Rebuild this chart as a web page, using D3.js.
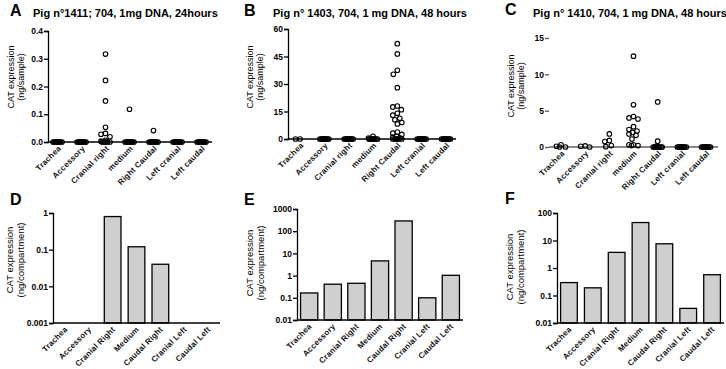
<!DOCTYPE html>
<html><head><meta charset="utf-8">
<script src="https://cdn.jsdelivr.net/npm/d3@7"></script>
<style>
body{margin:0;background:#fff;}
text{font-family:"Liberation Sans",Arial,sans-serif;}
</style></head>
<body><svg id="c" width="726" height="369"></svg>
<script>
// ---------- DATA ----------
const catsTop = ["Trachea","Accessory","Cranial right","medium","Right Caudal","Left cranial","Left caudal"];
const catsBottom = ["Trachea","Accessory","Cranial Right","Medium","Caudal Right","Cranial Left","Caudal Left"];

const titleA = "Pig n°1411; 704, 1mg DNA, 24hours";
const titleB = "Pig n° 1403, 704, 1 mg DNA, 48 hours";
const titleC = "Pig n° 1410, 704, 1 mg DNA, 48 hours";

const ticksA = [0, 0.1, 0.2, 0.3, 0.4];
const ticksB = [0, 15, 30, 45, 60];
const ticksC = [0, 5, 10, 15];
const ticksD = [0.001, 0.01, 0.1, 1];
const ticksE = [0.01, 0.1, 1, 10, 100, 1000];
const ticksF = [0.01, 0.1, 1, 10, 100];
const tickLabelsD = ["0.001","0.01","0.1","1"];
const tickLabelsE = ["0.01","0.1","1","10","100","1000"];
const tickLabelsF = ["0.01","0.1","1","10","100"];

// scatter values (ng/sample), one array per lung compartment
const pointsA = [
  [0,0,0,0,0,0,0,0,0,0,0,0],
  [0,0,0,0,0,0,0,0,0,0,0,0],
  [0.317,0.222,0.148,0.053,0.031,0.028,0.019,0.006,0.003,0,0,0,0,0,0],
  [0.118,0,0,0,0,0,0,0,0,0],
  [0.041,0,0,0,0,0,0,0,0,0,0,0,0],
  [0,0,0,0,0,0,0,0,0,0,0,0],
  [0,0,0,0,0,0,0,0,0,0,0,0]
];
const pointsB = [
  [0,0],
  [0,0,0,0,0,0,0,0,0,0,0,0],
  [0,0,0,0,0,0,0,0,0,0,0,0],
  [1.5,0.5,0,0,0,0,0,0,0,0,0,0],
  [52,46.4,37.5,35.3,28,18,17.5,16,14,13,11.3,10.5,9,8.2,3.8,3.2,2.5,1.5,1,0.5,0,0,0,0,0,0],
  [0,0,0,0,0,0,0,0,0,0,0,0],
  [0,0,0,0,0,0,0,0,0,0,0,0]
];
const pointsC = [
  [0.3,0.1,0,0],
  [0.15,0.1,0],
  [1.8,0.9,0.75,0.2,0.05],
  [12.5,5.8,4.2,4.0,3.85,2.8,2.4,2.2,2.0,1.8,1.6,1.1,0.3,0.3,0.2,0.2],
  [6.2,0.8,0.1,0,0,0,0,0,0,0,0,0,0],
  [0,0,0,0,0,0,0,0,0,0,0,0],
  [0,0,0,0,0,0,0,0,0,0,0,0]
];

// bar values (ng/compartment); null = below axis
const barsD = [null, null, 0.8, 0.12, 0.04, null, null];
const barsE = [0.165, 0.41, 0.45, 4.6, 290, 0.1, 1.03];
const barsF = [0.295, 0.19, 3.7, 45, 7.6, 0.034, 0.57];

// ---------- DRAWING ----------
const svg = d3.select("#c");
const FONT = '"Liberation Sans",Arial,sans-serif';

function letter(x, y, t){
  svg.append("text").attr("x", x).attr("y", y).text(t)
    .attr("font-size", 16).attr("font-weight", "bold").attr("fill", "#000");
}
function title(x, y, t){
  svg.append("text").attr("x", x).attr("y", y).text(t)
    .attr("font-size", 11).attr("font-weight", "bold").attr("fill", "#000");
}
function ylabel(x, cy, l1, l2, fs){
  const g = svg.append("g").attr("transform", `translate(${x},${cy}) rotate(-90)`);
  g.append("text").attr("text-anchor", "middle").attr("y", 0).text(l1).attr("font-size", fs);
  g.append("text").attr("text-anchor", "middle").attr("y", fs + 1).text(l2).attr("font-size", fs);
}
function catLabels(pos, cats, y, dx){
  cats.forEach(c => {
    svg.append("text")
      .attr("transform", `translate(${pos(c) + dx},${y}) rotate(-45)`)
      .attr("text-anchor", "end").attr("font-size", 8).attr("font-weight", "bold")
      .attr("letter-spacing", 0.2).attr("fill", "#111")
      .text(c);
  });
}
function yAxis(x, y, ticks, labels, color, showLine){
  const g = svg.append("g").attr("transform", `translate(${x},0)`);
  const ax = d3.axisLeft(y).tickValues(ticks).tickSize(4).tickPadding(1)
    .tickFormat((d, i) => labels[i]);
  g.call(ax);
  g.select(".domain").attr("stroke", color).attr("stroke-width", 1.3)
    .attr("display", showLine ? null : "none");
  g.selectAll(".tick line").attr("stroke", color).attr("stroke-width", 1.3);
  g.selectAll(".tick text").attr("font-size", 8.5).attr("font-weight", "bold")
    .attr("font-family", FONT).attr("fill", "#000");
}

function swarm(vals, y, cx){
  const minD = 5.4, maxOff = 4.5;
  const cands = [0];
  for (let s = 0.5; s <= maxOff + 1e-6; s += 0.5) { cands.push(-s, s); }
  const placed = [];
  vals.forEach(v => {
    const py = y(v);
    let best = null, bestScore = -1;
    for (const o of cands) {
      let md = Infinity;
      placed.forEach(p => { md = Math.min(md, Math.hypot(p.x - (cx + o), p.y - py)); });
      if (md >= minD) { best = o; bestScore = Infinity; break; }
      if (md > bestScore + 0.01) { bestScore = md; best = o; }
    }
    placed.push({x: cx + best, y: py});
  });
  return placed;
}

function scatterPanel(o){
  const x = d3.scalePoint().domain(catsTop).range(o.xr);
  const y = d3.scaleLinear().domain(o.dom).range(o.yr);
  yAxis(o.ax, y, o.ticks, o.tickLabels, o.yColor, o.yLine);
  svg.append("line").attr("x1", o.ax).attr("x2", o.xEnd)
    .attr("y1", y(0)).attr("y2", y(0))
    .attr("stroke", o.xColor).attr("stroke-width", o.xWidth);
  catsTop.forEach((c, i) => {
    const pts = swarm(o.pts[i], y, x(c));
    svg.append("g").selectAll("circle").data(pts).join("circle")
      .attr("cx", d => d.x).attr("cy", d => d.y).attr("r", 2.3)
      .attr("fill", "none").attr("stroke", "#000").attr("stroke-width", 1.1);
  });
  catLabels(c => x(c), catsTop, y(0) + 7, 4);
}

function barPanel(o){
  const x = d3.scaleBand().domain(catsBottom).range(o.xr).paddingInner(o.pad).paddingOuter(0.15);
  const y = d3.scaleLog().domain(o.dom).range(o.yr);
  svg.append("g").selectAll("rect")
    .data(o.vals.map((v, i) => ({c: catsBottom[i], v})).filter(d => d.v != null))
    .join("rect")
    .attr("x", d => x(d.c)).attr("width", x.bandwidth())
    .attr("y", d => y(d.v)).attr("height", d => y(o.dom[0]) - y(d.v))
    .attr("fill", "#cfcfcf").attr("stroke", "#000").attr("stroke-width", 1.3);
  yAxis(o.xr[0], y, o.ticks, o.tickLabels, "#000", true);
  svg.append("line").attr("x1", o.xr[0]).attr("x2", o.xr[1])
    .attr("y1", y(o.dom[0])).attr("y2", y(o.dom[0]))
    .attr("stroke", "#000").attr("stroke-width", 1.3);
  catLabels(c => x(c) + x.bandwidth() / 2, catsBottom, y(o.dom[0]) + 7, 3);
}

// Panel A
letter(10, 16, "A"); title(33, 17, titleA);
ylabel(14, 77, "CAT expression", "(ng/sample)", 9);
scatterPanel({xr:[57.5, 201.5], dom:[0, 0.4], yr:[142, 31], ax:48, xEnd:212,
  ticks:ticksA, tickLabels:ticksA.map(d => d.toFixed(1)), pts:pointsA,
  yColor:"#000", yLine:true, xColor:"#000", xWidth:1.3});

// Panel B
letter(244, 16, "B"); title(273, 17, titleB);
ylabel(253, 77, "CAT expression", "(ng/sample)", 9);
scatterPanel({xr:[300, 446], dom:[0, 60], yr:[139, 29], ax:288, xEnd:456,
  ticks:ticksB, tickLabels:ticksB.map(String), pts:pointsB,
  yColor:"#000", yLine:true, xColor:"#000", xWidth:1.3});

// Panel C
letter(505, 15, "C"); title(533, 17, titleC);
ylabel(514, 86, "CAT expression", "(ng/sample)", 9);
scatterPanel({xr:[561, 706], dom:[0, 15], yr:[147, 38], ax:549, xEnd:718,
  ticks:ticksC, tickLabels:ticksC.map(String), pts:pointsC,
  yColor:"#555", yLine:false, xColor:"#888", xWidth:2});

// Panel D
letter(10, 205, "D");
ylabel(13, 260, "CAT expression", "(ng/compartment)", 9.5);
barPanel({xr:[53, 220], dom:[0.001, 1], yr:[323, 213], pad:0.3, vals:barsD,
  ticks:ticksD, tickLabels:tickLabelsD});

// Panel E
letter(244, 205, "E");
ylabel(253, 263, "CAT expression", "(ng/compartment)", 9.5);
barPanel({xr:[297, 463], dom:[0.01, 1000], yr:[320, 209], pad:0.27, vals:barsE,
  ticks:ticksE, tickLabels:tickLabelsE});

// Panel F
letter(505, 204, "F");
ylabel(513, 267, "CAT expression", "(ng/compartment)", 9.5);
barPanel({xr:[557, 724], dom:[0.01, 100], yr:[323, 213], pad:0.3, vals:barsF,
  ticks:ticksF, tickLabels:tickLabelsF});
</script></body></html>
